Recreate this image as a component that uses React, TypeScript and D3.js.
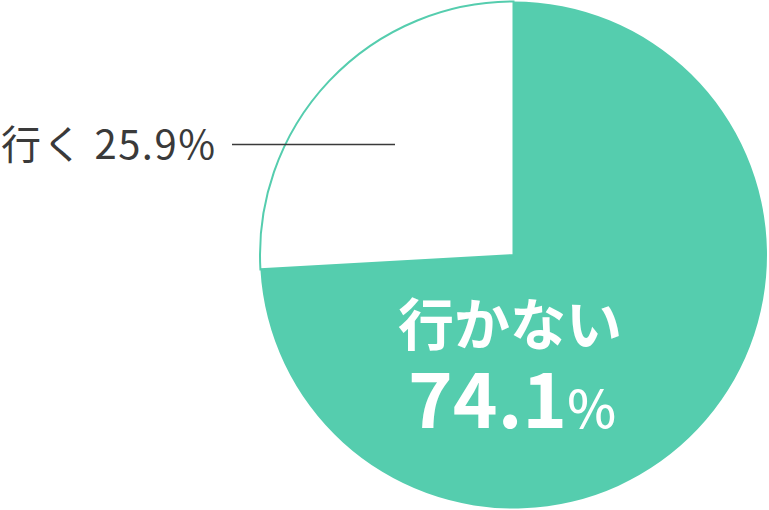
import { useEffect, useRef } from "react";
import * as d3 from "d3";

const categories = ["行かない", "行く"];
const values = [74.1, 25.9];
const colors = ["#55cdae", "#ffffff"];

const W = 769;
const H = 510;
const FONT = "'Noto Sans CJK JP', 'Noto Sans', sans-serif";

export default function App() {
  const svgRef = useRef<SVGSVGElement>(null);

  useEffect(() => {
    if (!svgRef.current) return;
    const svg = d3.select(svgRef.current);
    svg.selectAll("*").remove();

    const cx = 513.5;
    const cy = 255;
    const r = 253.5;

    const pie = d3.pie<number>().sort(null).value((d) => d);
    const arcs = pie(values);
    const arc = d3.arc<d3.PieArcDatum<number>>().innerRadius(0).outerRadius(r);

    const g = svg.append("g").attr("transform", `translate(${cx},${cy})`);

    g.selectAll("path")
      .data(arcs)
      .enter()
      .append("path")
      .attr("d", arc)
      .attr("fill", (_, i) => colors[i])
      .attr("stroke", (_, i) => (i === 1 ? "#55cdae" : "none"))
      .attr("stroke-width", 2);

    // big label inside the green slice
    const big = svg.append("g").attr("fill", "#ffffff").attr("font-family", FONT).attr("font-weight", 700);
    big
      .append("text")
      .attr("x", 510)
      .attr("y", 345)
      .attr("text-anchor", "middle")
      .attr("font-size", 56)
      .text(categories[0]);
    const pct = big
      .append("text")
      .attr("x", 512)
      .attr("y", 428)
      .attr("text-anchor", "middle")
      .attr("font-size", 76);
    pct.append("tspan").text(values[0].toFixed(1));
    pct.append("tspan").attr("font-size", 52).attr("font-weight", 500).text("%");

    // outside label for the small slice
    svg
      .append("line")
      .attr("x1", 232)
      .attr("x2", 395)
      .attr("y1", 144.5)
      .attr("y2", 144.5)
      .attr("stroke", "#3a3a3a")
      .attr("stroke-width", 1.5);

    svg
      .append("text")
      .attr("x", 1)
      .attr("y", 159)
      .attr("font-family", FONT)
      .attr("font-size", 40)
      .attr("letter-spacing", 1.5)
      .attr("fill", "#3a3a3a")
      .text(`${categories[1]} ${values[1].toFixed(1)}%`);
  }, []);

  return (
    <div style={{ position: "absolute", left: 0, top: 0 }}>
      <svg ref={svgRef} width={W} height={H} style={{ display: "block" }} />
    </div>
  );
}
